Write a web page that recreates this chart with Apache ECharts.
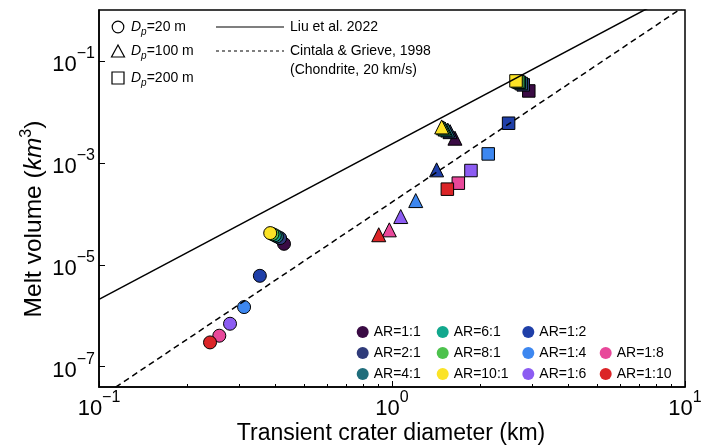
<!DOCTYPE html>
<html><head><meta charset="utf-8">
<script src="https://cdn.jsdelivr.net/npm/echarts@6/dist/echarts.min.js"></script>
<style>html,body{margin:0;padding:0;background:#fff}#c{width:712px;height:448px}</style>
</head><body><div id="c"></div>
<script>
// ---- data ----
const arLabels = ['AR=1:1','AR=2:1','AR=4:1','AR=6:1','AR=8:1','AR=10:1','AR=1:2','AR=1:4','AR=1:6','AR=1:8','AR=1:10'];
const arColors = ['#3a0b44','#2f3b7a','#1f6d7b','#12a88d','#4dc24d','#fbe326','#1f3fa8','#3d87f0','#8c5cf2','#e8489a','#db2427'];
// Dp = 20 m (circles)
const diamDp20 = [0.428, 0.415, 0.405, 0.398, 0.391, 0.384, 0.354, 0.3127, 0.280, 0.2574, 0.2393];
const meltDp20 = [2.58e-5, 3.34e-5, 3.6e-5, 3.8e-5, 4.0e-5, 4.19e-5, 6.08e-6, 1.48e-6, 6.97e-7, 4.06e-7, 3.0e-7];
// Dp = 100 m (triangles)
const diamDp100 = [1.64, 1.578, 1.55, 1.52, 1.50, 1.478, 1.42, 1.205, 1.071, 0.979, 0.901];
const meltDp100 = [3.05e-3, 4.1e-3, 4.4e-3, 4.6e-3, 4.85e-3, 5.08e-3, 7.3e-4, 1.82e-4, 8.85e-5, 4.85e-5, 3.89e-5];
// Dp = 200 m (squares)
const diamDp200 = [2.93, 2.805, 2.76, 2.72, 2.69, 2.65, 2.50, 2.13, 1.86, 1.684, 1.545];
const meltDp200 = [0.0258, 0.0339, 0.036, 0.038, 0.039, 0.0406, 6.0e-3, 1.5e-3, 7.08e-4, 4.0e-4, 3.05e-4];
// reference lines
const liuD = [0.1, 10];
const liuV = [2.1e-6, 2.64];
const cgD = [0.1, 10];
const cgV = [2.4e-8, 1.2];
// ticks
const xMajorTicks = [0.1, 1, 10];
const xMinorTicks = [0.2,0.3,0.4,0.5,0.6,0.7,0.8,0.9,2,3,4,5,6,7,8,9];
const yTicks = [1e-7, 1e-5, 1e-3, 1e-1];

// ---- chart ----
const FF = '"Liberation Sans", Arial, Helvetica, sans-serif';
const chart = echarts.init(document.getElementById('c'), null, {renderer: 'canvas'});
function powLabel(v) {
  const e = Math.round(Math.log10(v));
  return '{b|10}{s|' + (e < 0 ? '\u2212' + (-e) : String(e)) + '}';
}
const tickRich = {
  b: {fontSize: 22, lineHeight: 30, verticalAlign: 'bottom', fontFamily: FF, color: '#000'},
  s: {fontSize: 16, lineHeight: 16, verticalAlign: 'top', fontFamily: FF, color: '#000'}
};
const sizes = {circle: 13, triangle: 14, rect: 12.5};
const scatterSeries = arLabels.map((name, i) => ({
  name: name,
  type: 'scatter',
  z: 2,
  itemStyle: {color: arColors[i], borderColor: '#000', borderWidth: 1, opacity: 1},
  emphasis: {disabled: true},
  data: [
    {value: [diamDp20[i], meltDp20[i]], symbol: 'circle', symbolSize: sizes.circle},
    {value: [diamDp100[i], meltDp100[i]], symbol: 'triangle', symbolSize: sizes.triangle},
    {value: [diamDp200[i], meltDp200[i]], symbol: 'rect', symbolSize: sizes.rect}
  ]
}));
const lineSeries = [
  {name: 'Liu et al. 2022', type: 'line', z: 3, symbol: 'none', silent: true,
   lineStyle: {color: '#000', width: 1.5}, data: liuD.map((d, k) => [d, liuV[k]])},
  {name: 'Cintala & Grieve, 1998', type: 'line', z: 3, symbol: 'none', silent: true,
   lineStyle: {color: '#000', width: 1.5, type: [6, 4]}, data: cgD.map((d, k) => [d, cgV[k]])}
];
const legendBase = {orient: 'vertical', itemWidth: 12, itemHeight: 12, itemGap: 7, padding: 0,
  icon: 'circle', selectedMode: false, itemStyle: {borderWidth: 0},
  textStyle: {fontSize: 14, fontFamily: FF, color: '#000'}};
const dpRich = {
  i: {fontSize: 14, fontStyle: 'italic', lineHeight: 17, verticalAlign: 'top', fontFamily: FF, fill: '#000', color: '#000'},
  p: {fontSize: 10, fontStyle: 'italic', lineHeight: 10, verticalAlign: 'bottom', fontFamily: FF, fill: '#000', color: '#000'},
  n: {fontSize: 14, lineHeight: 17, verticalAlign: 'top', fontFamily: FF, fill: '#000', color: '#000'}
};
function txt(x, y, text) {
  return {type: 'text', x: x, y: y, silent: true,
    style: {text: text, fontSize: 14, fontFamily: FF, fill: '#000', align: 'left', textAlign: 'left',
      verticalAlign: 'middle', textVerticalAlign: 'middle'}};
}
function dpTxt(x, y, text) {
  return {type: 'text', x: x, y: y, silent: true,
    style: {text: text, rich: dpRich, fill: '#000', align: 'left', textAlign: 'left',
      verticalAlign: 'middle', textVerticalAlign: 'middle'}};
}
const option = {
  animation: false,
  backgroundColor: '#fff',
  grid: {left: 99, right: 27, top: 10, bottom: 61, show: true, borderColor: '#000', borderWidth: 1.5, containLabel: false},
  xAxis: [
    {type: 'log', logBase: 10, min: 0.1, max: 10, position: 'bottom',
     axisLine: {show: true, lineStyle: {color: '#000', width: 1.5}},
     axisTick: {show: true, inside: true, length: 6, customValues: xMajorTicks, lineStyle: {color: '#000', width: 1}},
     axisLabel: {show: true, customValues: xMajorTicks, margin: 3, formatter: powLabel, rich: tickRich},
     splitLine: {show: false}, minorTick: {show: false}},
    {type: 'log', logBase: 10, min: 0.1, max: 10, position: 'bottom', offset: 0,
     axisLine: {show: false},
     axisTick: {show: true, inside: true, length: 3, customValues: xMinorTicks, lineStyle: {color: '#000', width: 1}},
     axisLabel: {show: false}, splitLine: {show: false}}
  ],
  yAxis: {type: 'log', logBase: 10, min: 4e-8, max: 1,
    axisLine: {show: true, lineStyle: {color: '#000', width: 1.5}},
    axisTick: {show: true, inside: true, length: 6, customValues: yTicks, lineStyle: {color: '#000', width: 1}},
    axisLabel: {show: true, customValues: yTicks, margin: 4, formatter: powLabel, rich: tickRich},
    splitLine: {show: false}, minorTick: {show: false}},
  legend: [
    Object.assign({}, legendBase, {data: arLabels.slice(0, 3), left: 356.7, top: 325}),
    Object.assign({}, legendBase, {data: arLabels.slice(3, 6), left: 436.7, top: 325}),
    Object.assign({}, legendBase, {data: arLabels.slice(6, 9), left: 522.3, top: 325}),
    Object.assign({}, legendBase, {data: arLabels.slice(9, 11), left: 599.7, top: 346})
  ],
  series: scatterSeries.concat(lineSeries),
  graphic: [
    {type: 'circle', silent: true, shape: {cx: 118, cy: 27, r: 5.8}, style: {fill: '#fff', stroke: '#000', lineWidth: 1.2}},
    {type: 'polygon', silent: true, shape: {points: [[118, 45], [124.5, 57], [111.5, 57]]}, style: {fill: '#fff', stroke: '#000', lineWidth: 1.2}},
    {type: 'rect', silent: true, shape: {x: 112, y: 72, width: 12, height: 12}, style: {fill: '#fff', stroke: '#000', lineWidth: 1.2}},
    dpTxt(131, 28.5, '{i|D}{p|p}{n|=20 m}'),
    dpTxt(131, 52.5, '{i|D}{p|p}{n|=100 m}'),
    dpTxt(131, 79.5, '{i|D}{p|p}{n|=200 m}'),
    {type: 'line', silent: true, shape: {x1: 216, y1: 27, x2: 284, y2: 27}, style: {stroke: '#000', lineWidth: 1.2}},
    {type: 'line', silent: true, shape: {x1: 216, y1: 51, x2: 284, y2: 51}, style: {stroke: '#000', lineWidth: 1.2, lineDash: [3, 3]}},
    txt(290, 27, 'Liu et al. 2022'),
    txt(290, 51, 'Cintala & Grieve, 1998'),
    txt(290, 70, '(Chondrite, 20 km/s)'),
    {type: 'text', silent: true, x: 391, y: 434,
     style: {text: 'Transient crater diameter (km)', fontSize: 23, fontFamily: FF, fill: '#000',
       align: 'center', textAlign: 'center', verticalAlign: 'middle', textVerticalAlign: 'middle'}},
    {type: 'text', silent: true, x: 33, y: 219, rotation: Math.PI / 2,
     style: {text: '{n|Melt volume (}{i|km}{s|3}{n|)}', fill: '#000',
       align: 'center', textAlign: 'center', verticalAlign: 'middle', textVerticalAlign: 'middle',
       rich: {
         n: {fontSize: 24.5, lineHeight: 28, verticalAlign: 'bottom', fontFamily: FF, fill: '#000', color: '#000'},
         i: {fontSize: 24.5, lineHeight: 28, verticalAlign: 'bottom', fontStyle: 'italic', fontFamily: FF, fill: '#000', color: '#000'},
         s: {fontSize: 16, lineHeight: 16, verticalAlign: 'top', fontFamily: FF, fill: '#000', color: '#000'}
       }}}
  ]
};
chart.setOption(option);
</script>
</body></html>
